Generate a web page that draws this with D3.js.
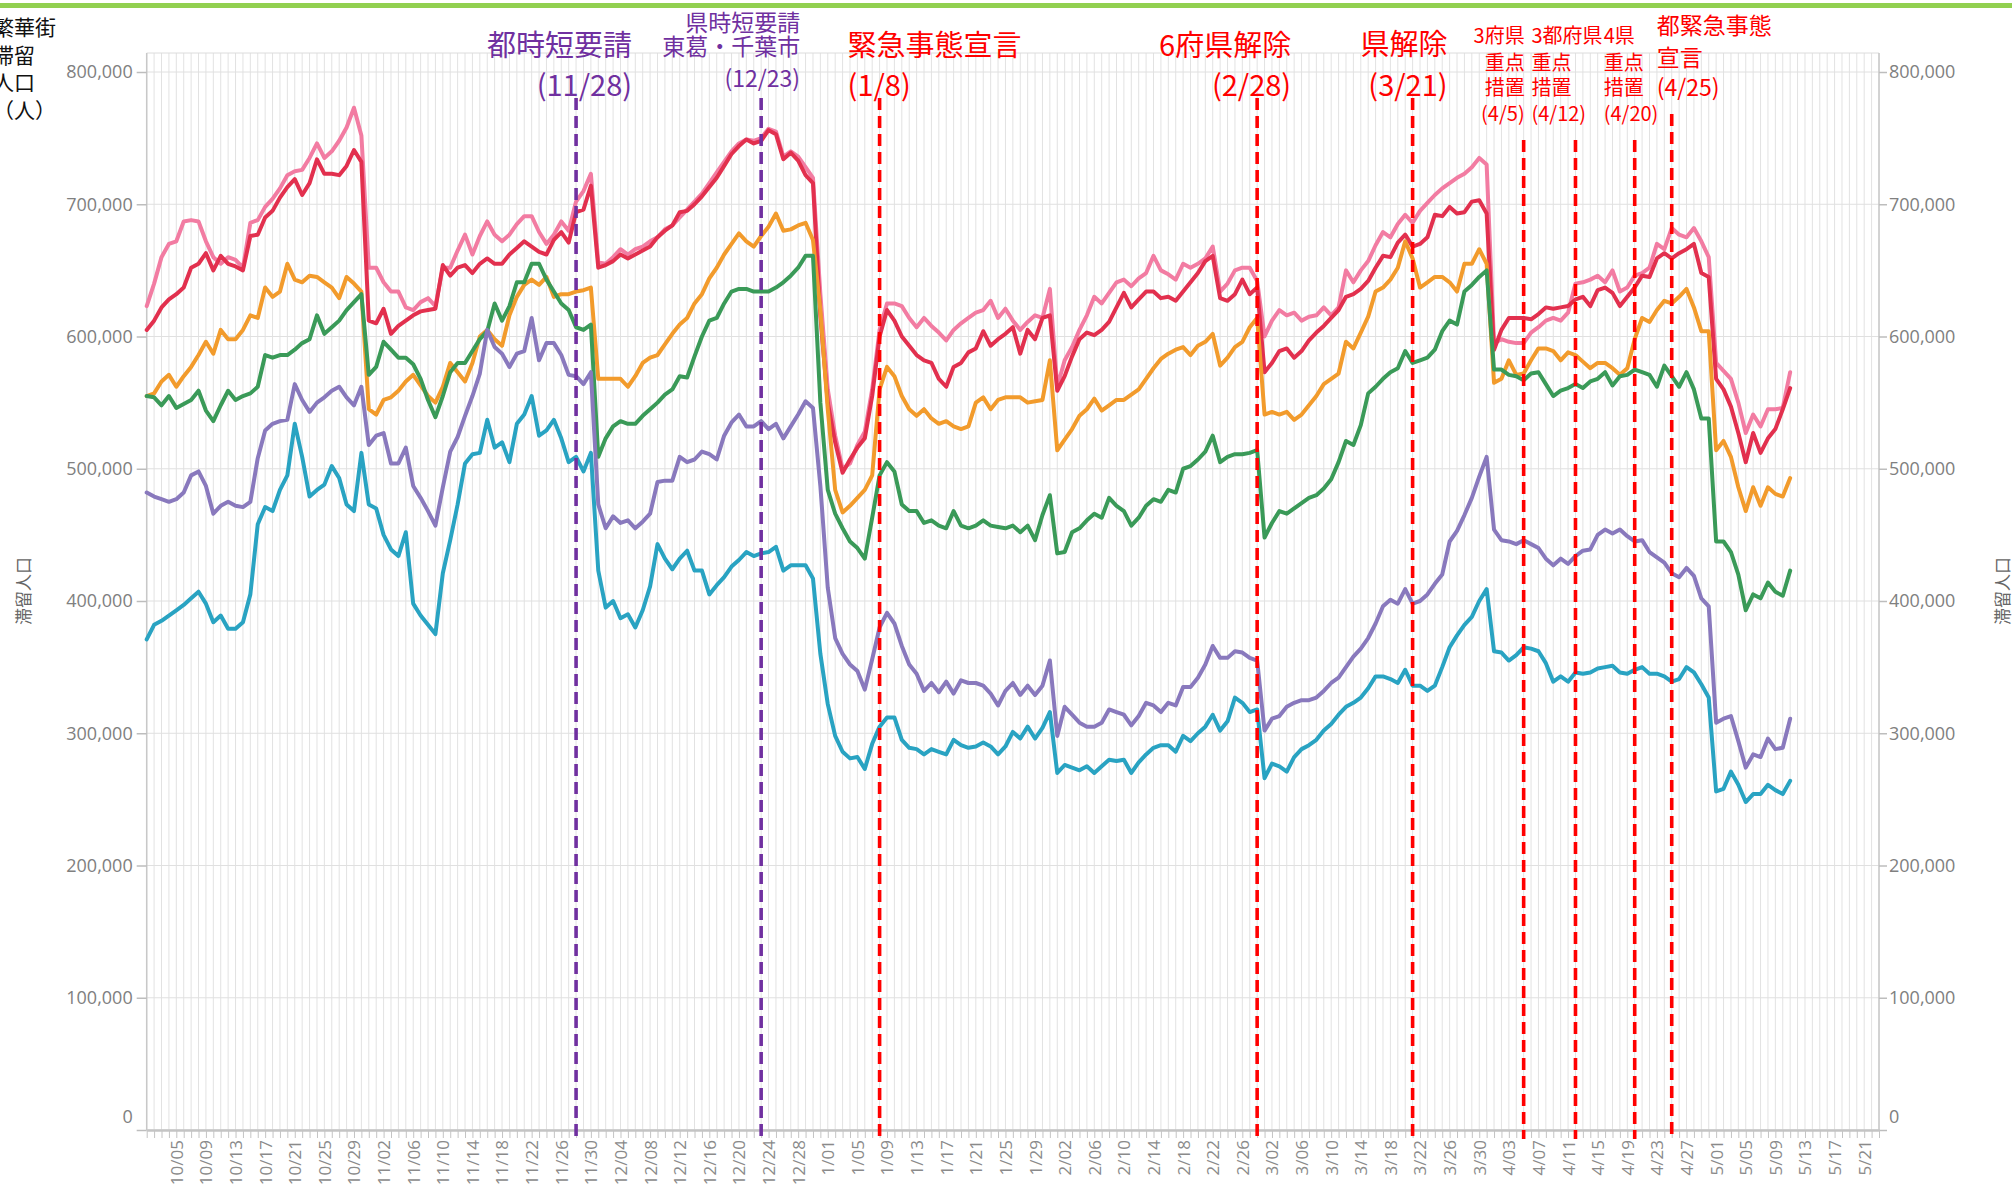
<!DOCTYPE html>
<html><head><meta charset="utf-8">
<script src="https://cdn.jsdelivr.net/npm/d3@7"></script>
<style>
html,body{margin:0;padding:0;background:#fff;overflow:hidden;}
svg{display:block;}
</style></head><body>
<svg id="chart" width="2012" height="1188"></svg>
<script>
// ---------- DATA (daily values, unit: 千人) ----------
const startDate = "2020-10-01";
const axisEndDate = "2021-05-23";
const labelStartDate = "2020-10-05";
const labelEndDate = "2021-05-21";
const yTicks = [0, 100, 200, 300, 400, 500, 600, 700, 800];

const pinkK = [
623,640,660,670,672,687,688,687,672,660,655,660,658,652,686,688,698,704,712,722,
725,726,735,746,735,740,748,758,773,752,652,652,641,634,634,622,620,626,629,623,
652,652,665,677,662,676,687,677,672,677,685,691,691,679,670,677,687,680,702,710,
723,656,655,660,666,
662,666,668,672,675,681,684,690,696,702,708,716,724,732,740,746,749,748,750,757,
755,736,740,736,728,720,632,560,525,500,504,518,528,560,605,625,625,623,614,607,
614,608,603,597,605,610,614,618,620,627,614,621,612,605,611,616,614,636,562,582,
592,605,
616,630,625,633,641,643,638,644,648,661,650,647,643,655,652,655,659,668,634,640,
650,652,652,642,600,612,620,616,618,612,615,616,622,616,622,650,641,650,657,669,
679,675,685,692,686,695,701,707,712,716,720,723,728,735,730,595,598,596,595,595,
603,607,
612,614,612,618,640,641,643,646,641,650,634,637,646,648,652,670,666,682,677,675,
682,672,660,580,574,568,550,527,541,532,545,545,546,573];

const redK = [
605,612,622,628,632,637,652,655,663,650,661,655,653,650,676,677,690,695,705,713,
719,707,716,734,723,723,722,729,741,732,612,610,621,602,608,612,616,619,620,621,
654,646,652,654,648,655,659,655,655,662,667,672,668,664,662,673,679,671,694,696,
714,652,654,657,662,
659,662,665,668,675,680,684,694,695,700,706,713,720,729,738,744,749,746,748,756,
753,734,739,733,722,716,615,550,520,497,507,516,523,555,600,620,612,600,593,586,
582,580,568,562,577,580,588,591,604,593,598,602,607,587,605,598,614,616,559,570,
585,598,
603,601,605,611,622,633,622,628,634,634,629,630,627,634,641,648,657,661,629,627,
632,643,632,637,573,580,589,591,584,589,597,603,608,614,620,630,632,636,642,652,
661,660,671,677,668,670,675,692,691,698,693,694,702,703,693,590,605,614,614,614,
613,617,
622,621,622,623,628,630,623,635,637,633,623,630,637,646,645,659,663,659,663,666,
670,648,645,568,560,547,527,505,527,512,523,530,545,561];

const orangeK = [
555,557,566,571,562,570,577,586,596,587,605,598,598,605,616,614,637,630,634,655,
643,641,646,645,641,637,629,645,640,634,545,541,552,554,559,566,571,563,555,550,
562,580,573,566,580,600,605,598,593,616,630,639,643,639,645,630,632,632,634,635,
637,568,568,568,568,
562,570,580,584,586,594,602,609,614,625,632,644,652,662,670,678,672,668,676,683,
693,680,681,684,686,673,620,545,484,467,472,478,484,495,560,577,570,555,545,540,
545,538,534,536,532,530,532,550,554,545,552,554,554,554,550,551,552,582,514,522,
530,540,
545,553,544,548,552,552,556,560,568,576,583,587,590,592,586,593,596,602,578,584,
592,596,607,614,541,543,541,543,537,541,548,555,564,568,572,596,591,603,615,634,
637,643,652,672,659,637,641,645,645,641,634,655,655,666,655,565,568,582,571,572,
582,591,
591,589,582,588,586,581,576,580,580,576,571,576,598,614,611,620,627,625,630,636,
622,604,604,514,521,509,486,468,486,472,486,481,479,493];

const greenK = [
555,554,548,555,546,549,552,559,544,536,548,559,552,555,557,562,586,584,586,586,
590,595,598,616,602,607,612,620,626,632,571,577,596,590,584,584,579,568,552,539,
555,573,580,580,589,598,604,625,612,623,641,641,655,655,643,634,625,620,607,605,
609,509,523,532,536,
534,534,540,545,550,556,560,570,569,585,600,612,614,625,634,636,636,634,634,634,
637,641,646,652,661,661,550,484,466,455,445,440,432,463,495,505,498,473,468,468,
459,461,457,455,468,457,455,457,461,457,456,455,457,452,457,446,465,480,436,437,
452,455,
461,466,463,478,472,468,457,463,472,477,475,484,482,500,502,507,513,525,505,509,
511,511,512,514,448,459,468,466,470,474,478,480,485,492,505,521,518,533,557,562,
568,573,576,589,580,582,584,590,604,612,609,634,639,645,650,575,575,571,570,567,
572,573,
564,555,559,561,564,561,566,568,573,563,570,571,575,573,571,562,578,570,562,573,
560,538,538,445,445,437,420,393,405,402,414,407,404,423];

const purpleK = [
482,479,477,475,477,482,495,498,487,466,472,475,472,471,475,508,529,534,536,537,
564,552,543,550,554,559,562,554,548,562,518,525,527,504,504,516,487,478,468,457,
486,513,524,540,555,572,605,592,587,577,587,589,614,582,595,595,586,571,570,564,
573,473,455,464,459,
461,455,460,466,490,491,491,509,505,507,513,511,507,525,535,541,532,532,536,530,
534,523,532,541,551,546,487,410,372,360,352,347,333,356,380,391,383,366,352,345,
332,338,331,339,330,340,338,338,336,330,321,332,338,329,336,329,336,355,298,320,
314,308,
305,305,308,318,316,314,306,313,323,321,316,323,321,335,335,342,352,366,357,357,
362,361,357,355,302,311,313,320,323,325,325,327,332,338,342,350,358,364,372,383,
396,401,398,409,398,400,405,413,420,445,453,465,478,494,509,454,446,445,443,446,
443,440,
432,427,432,428,434,438,439,450,454,451,454,449,445,446,437,433,429,421,418,425,
419,402,396,308,311,313,294,274,284,282,296,288,289,311];

const tealK = [
371,382,385,389,393,397,402,407,398,384,389,379,379,384,405,458,471,468,484,495,
534,509,479,484,488,502,493,473,468,512,473,470,450,439,434,452,398,389,382,375,
421,446,473,504,511,512,537,516,520,505,534,541,555,525,529,537,523,505,509,498,
512,423,395,400,387,
390,380,393,411,443,432,424,432,438,423,423,405,412,418,426,431,437,434,436,437,
441,423,427,427,427,417,360,322,298,286,281,282,273,292,305,312,312,295,289,288,
284,288,286,284,295,291,289,290,293,290,284,290,301,296,305,296,304,316,270,276,
274,272,
275,270,275,280,279,280,270,278,284,289,291,291,286,298,294,300,305,314,302,309,
327,323,316,318,266,277,275,271,282,288,291,295,302,307,314,320,323,327,334,343,
343,341,338,348,336,336,332,336,350,365,374,382,388,400,409,362,361,355,359,365,
364,362,
353,339,343,339,346,345,346,349,350,351,346,345,348,350,345,345,343,339,341,350,
346,337,327,256,258,271,261,248,254,254,261,257,254,264];

const seriesList = [pinkK, redK, orangeK, greenK, purpleK, tealK];
const seriesColors = ["#f27ca2", "#e2304e", "#f29b2c", "#3a9a58", "#8979bd", "#29a3c2"];

const eventDates = ["2020-11-28","2020-12-23","2021-01-08","2021-02-28","2021-03-21","2021-04-05","2021-04-12","2021-04-20","2021-04-25"];
const eventTexts = [
  ["都時短要請","(11/28)"],
  ["県時短要請","東葛・千葉市","(12/23)"],
  ["緊急事態宣言","(1/8)"],
  ["6府県解除","(2/28)"],
  ["県解除","(3/21)"],
  ["3府県","重点","措置","(4/5)"],
  ["3都府県","重点","措置","(4/12)"],
  ["4県","重点","措置","(4/20)"],
  ["都緊急事態","宣言","(4/25)"]
];
const eventColors = ["#7030a0","#7030a0","#ff0000","#ff0000","#ff0000","#ff0000","#ff0000","#ff0000","#ff0000"];
const cornerTexts = ["繁華街","滞留","人口","（人）"];
const axisTitle = "滞留人口";

// ---------- LAYOUT ----------
const W = 2012, H = 1188;
const plotL = 146.7, plotR = 1879, plotT = 53, plotB = 1130;
const eventLayout = [
  {anchor:"end",   dx: 56, fs: 29, ys: [56, 96],            top: 98},
  {anchor:"end",   dx: 39, fs: 23, ys: [31, 55, 87],        top: 98},
  {anchor:"start", dx:-32, fs: 29, ys: [56, 96],            top: 98},
  {anchor:"end",   dx: 34, fs: 29, ys: [56, 96],            top: 98},
  {anchor:"end",   dx: 35, fs: 29, ys: [55, 96],            top: 98},
  {anchor:"end",   dx:  1, fs: 20, ys: [43, 70, 95, 121],   top: 140},
  {anchor:"start", dx:-44, fs: 20, ys: [43, 70, 95, 121],   top: 140},
  {anchor:"start", dx:-31, fs: 20, ys: [43, 70, 95, 121],   top: 140},
  {anchor:"start", dx:-15, fs: 23, ys: [34, 66, 96],        top: 114}
];

const parseDay = d3.utcParse("%Y-%m-%d");
const start = parseDay(startDate);
const axisEnd = parseDay(axisEndDate);
const dates = d3.utcDay.range(start, d3.utcDay.offset(start, pinkK.length));
const allDays = d3.utcDay.range(start, d3.utcDay.offset(axisEnd, 1));
const labelDays = d3.utcDay.range(parseDay(labelStartDate), d3.utcDay.offset(parseDay(labelEndDate), 1), 4);
const labelSet = new Set(labelDays.map(d => +d));
const fmtX = d3.utcFormat("%-m/%d");
const fmtY = v => d3.format(",")(v * 1000);

const x = d3.scaleUtc().domain([start, axisEnd]).range([plotL, plotR]);
const y = d3.scaleLinear().domain([0, 800]).range([plotB, 72]);

const svg = d3.select("#chart");
svg.append("rect").attr("width", W).attr("height", H).attr("fill", "#fff");
svg.append("rect").attr("x", 0).attr("y", 3).attr("width", W).attr("height", 5).attr("fill", "#92d050");

// grid
const grid = svg.append("g");
grid.selectAll("line.v").data(allDays).join("line")
  .attr("x1", d => x(d)).attr("x2", d => x(d))
  .attr("y1", plotT).attr("y2", plotB)
  .attr("stroke", "#e2e2e2").attr("stroke-width", 1);
grid.selectAll("line.h").data(yTicks).join("line")
  .attr("x1", plotL).attr("x2", plotR)
  .attr("y1", d => y(d)).attr("y2", d => y(d))
  .attr("stroke", "#e0e0e0").attr("stroke-width", 1);
grid.append("line").attr("x1", plotL).attr("x2", plotR).attr("y1", plotT).attr("y2", plotT)
  .attr("stroke", "#dcdcdc");
grid.append("line").attr("x1", plotL).attr("x2", plotL).attr("y1", plotT).attr("y2", plotB)
  .attr("stroke", "#c8c8c8").attr("stroke-width", 1.5);
grid.append("line").attr("x1", plotR).attr("x2", plotR).attr("y1", plotT).attr("y2", plotB)
  .attr("stroke", "#c8c8c8").attr("stroke-width", 1.5);

// y axes
const yAxisL = d3.axisLeft(y).tickValues(yTicks).tickSize(10).tickPadding(4).tickFormat(fmtY);
const yAxisR = d3.axisRight(y).tickValues(yTicks).tickSize(8).tickPadding(2).tickFormat(fmtY);
function styleY(g) {
  g.select(".domain").remove();
  g.selectAll(".tick line").attr("stroke", "#bdbdbd").attr("stroke-width", 1.5);
  g.selectAll(".tick text").attr("fill", "#808080")
    .style("font-family", "'Open Sans', sans-serif").style("font-size", "18px");
  g.selectAll(".tick text").filter(d => d === 0).attr("dy", "-0.4em");
}
svg.append("g").attr("transform", `translate(${plotL},0)`).call(yAxisL).call(styleY);
svg.append("g").attr("transform", `translate(${plotR},0)`).call(yAxisR).call(styleY);

// x axis
const xAxis = d3.axisBottom(x).tickValues(allDays).tickSizeInner(8).tickSizeOuter(0)
  .tickFormat(d => labelSet.has(+d) ? fmtX(d) : "");
const gx = svg.append("g").attr("transform", `translate(0,${plotB})`).call(xAxis);
gx.select(".domain").attr("stroke", "#c4c4c4").attr("stroke-width", 2.5);
gx.selectAll(".tick line").attr("stroke", "#c4c4c4").attr("stroke-width", 1);
gx.selectAll(".tick text")
  .attr("transform", "rotate(-90)").attr("x", -10).attr("y", 0).attr("dy", "0.35em")
  .style("text-anchor", "end").attr("fill", "#8a8a8a")
  .style("font-family", "'Open Sans', sans-serif").style("font-size", "17px");

// series
const line = d3.line().x((d, i) => x(dates[i])).y(d => y(d));
svg.append("g").selectAll("path").data(seriesList).join("path")
  .attr("d", line).attr("fill", "none")
  .attr("stroke", (d, i) => seriesColors[i]).attr("stroke-width", 4)
  .attr("stroke-linejoin", "round").attr("stroke-linecap", "round");

// events
const ev = eventDates.map((d, i) => ({date: parseDay(d), texts: eventTexts[i], color: eventColors[i], lay: eventLayout[i]}));
const evG = svg.append("g");
evG.selectAll("line").data(ev).join("line")
  .attr("x1", d => x(d.date)).attr("x2", d => x(d.date))
  .attr("y1", d => d.lay.top).attr("y2", 1139)
  .attr("stroke", d => d.color).attr("stroke-width", 3.6).attr("stroke-dasharray", "12,6");
ev.forEach(e => {
  const t = evG.append("text")
    .attr("fill", e.color).attr("text-anchor", e.lay.anchor)
    .style("font-family", "'Noto Sans CJK JP', sans-serif").style("font-size", e.lay.fs + "px");
  e.texts.forEach((s, j) => {
    t.append("tspan").attr("x", x(e.date) + e.lay.dx).attr("y", e.lay.ys[j]).text(s);
  });
});

// corner label (partially cut at left edge, as in the reference)
const ct = svg.append("text").attr("fill", "#111")
  .style("font-family", "'Noto Sans CJK JP', sans-serif").style("font-size", "21px");
cornerTexts.forEach((s, j) => ct.append("tspan").attr("x", -7).attr("y", [35, 63, 90, 118][j]).text(s));

// axis titles
[24, 2003].forEach(px => {
  svg.append("text").attr("transform", `translate(${px},591) rotate(-90)`)
    .attr("text-anchor", "middle").attr("dy", "0.35em").attr("fill", "#666")
    .style("font-family", "'Noto Sans CJK JP', sans-serif").style("font-size", "17px")
    .text(axisTitle);
});
</script>
</body></html>
